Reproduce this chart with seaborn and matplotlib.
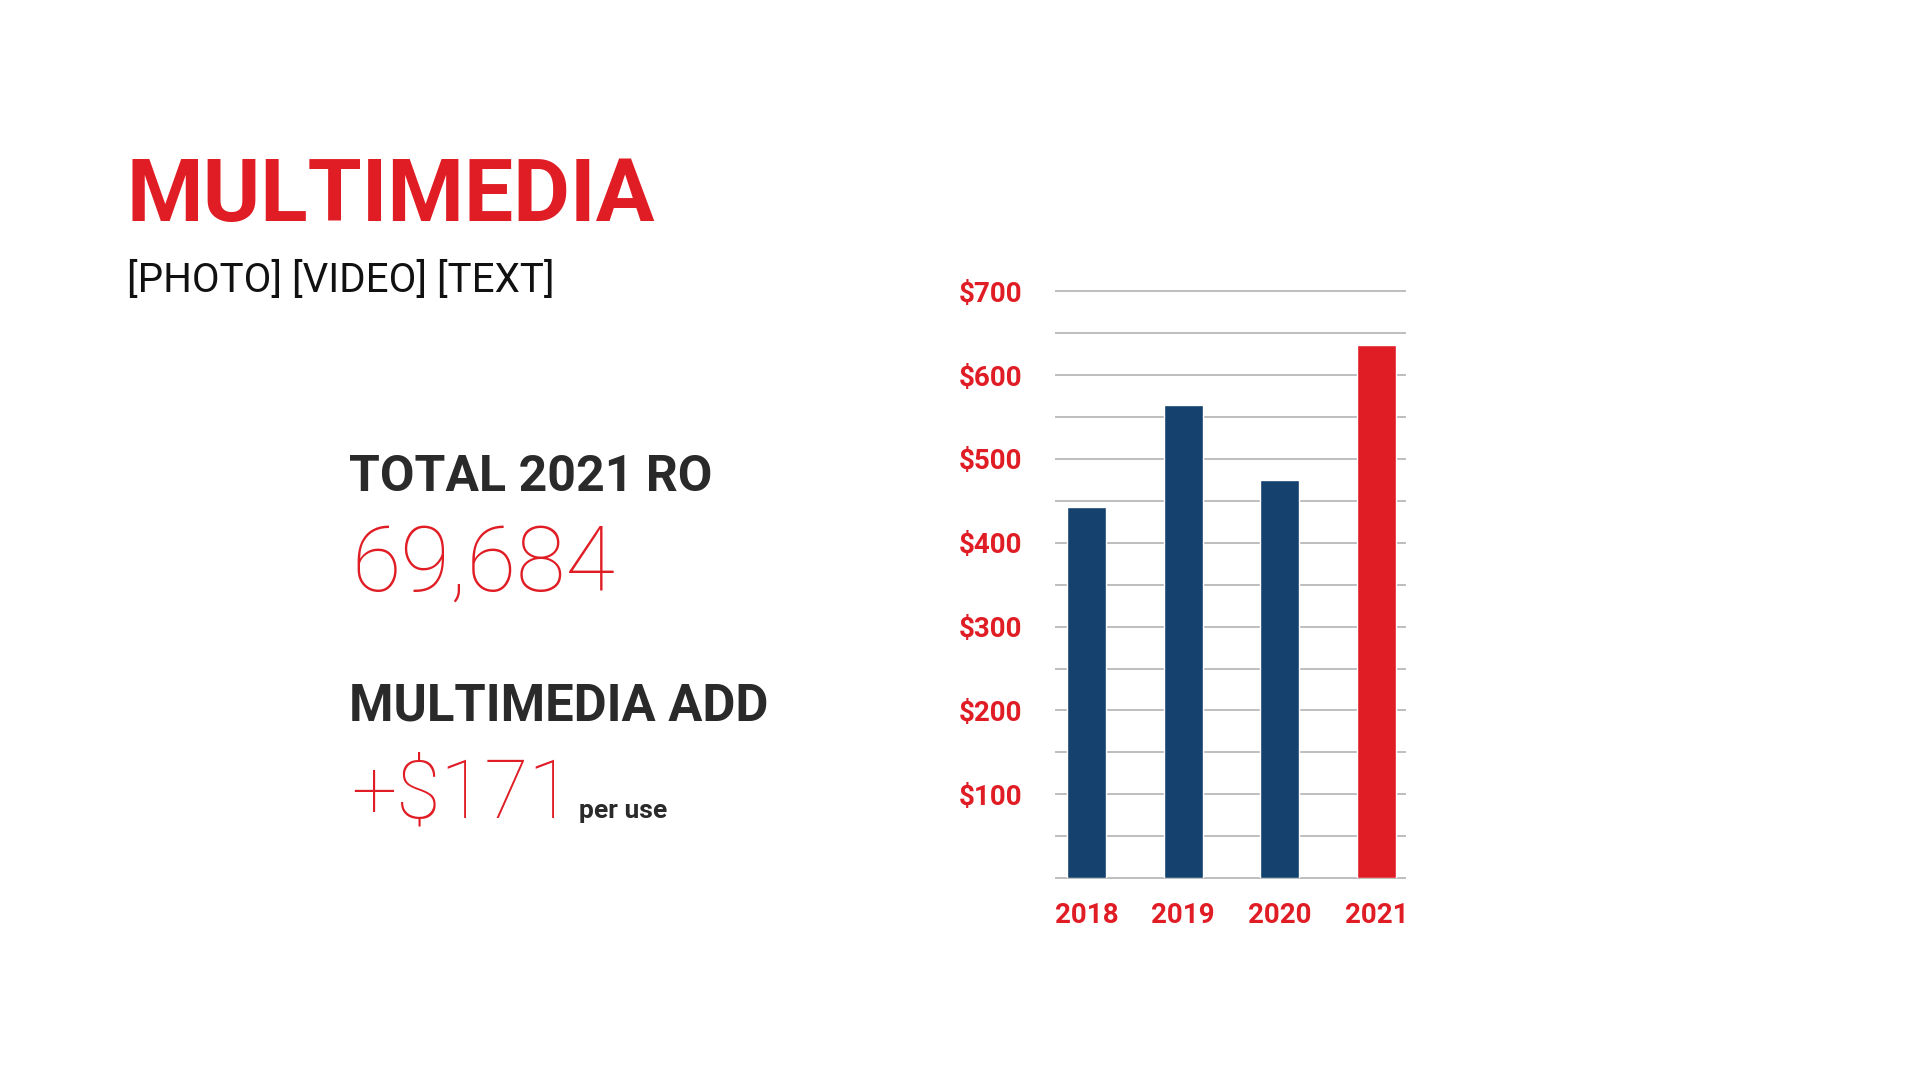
import numpy as np
import pandas as pd
import seaborn as sns
from matplotlib import pyplot as plt
from matplotlib import font_manager

years = ["2018", "2019", "2020", "2021"]
ro_values = [443, 565, 475, 636]
bar_colors = ["#15416e", "#15416e", "#15416e", "#e01d25"]
y_ticks = [100, 200, 300, 400, 500, 600, 700]
y_tick_labels = ["$100", "$200", "$300", "$400", "$500", "$600", "$700"]
grid_levels = np.arange(0, 701, 50)

title = "MULTIMEDIA"
subtitle = "[PHOTO] [VIDEO] [TEXT]"
stat1_label, stat1_value = "TOTAL 2021 RO", "69,684"
stat2_label, stat2_value, stat2_unit = "MULTIMEDIA ADD", "+$171", "per use"

RED = "#e01d25"
DARK = "#2a2a2a"


def _pick_font(candidates):
    installed = {f.name for f in font_manager.fontManager.ttflist}
    for name in candidates:
        if name in installed:
            return name
    return "DejaVu Sans"


sns.set_theme(style="white")
narrow = _pick_font(["Liberation Sans Narrow", "DejaVu Sans Condensed", "Roboto", "DejaVu Sans"])
light = _pick_font(["Roboto", "Lato", "Open Sans", "DejaVu Sans"])
plt.rcParams["font.family"] = [narrow, "DejaVu Sans"]

df = pd.DataFrame({"year": years, "value": ro_values})

fig = plt.figure(figsize=(19.2, 10.8), dpi=100)
ax = fig.add_axes([0.5497, 0.187, 0.1824, 0.5432])

sns.barplot(data=df, x="year", y="value", hue="year", palette=bar_colors,
            width=0.405, legend=False, ax=ax, saturation=1, zorder=3)

ax.set_ylim(0, 700)
ax.set_xlim(-0.32, 3.30)
ax.hlines(grid_levels, -0.32, 3.30, colors="#b3b3b3", linewidth=1.2, zorder=1, clip_on=False)
ax.set_yticks(y_ticks)
ax.set_yticklabels(y_tick_labels)
ax.grid(False)
ax.set_xlabel("")
ax.set_ylabel("")
sns.despine(ax=ax, left=True, bottom=True)
ax.tick_params(axis="y", length=0, pad=24, labelsize=20, labelcolor=RED)
ax.tick_params(axis="x", length=0, pad=17, labelsize=20, labelcolor=RED)
for lbl in ax.get_yticklabels() + ax.get_xticklabels():
    lbl.set_fontweight("bold")

# left-hand text block
fig.text(0.066, 0.795, title, color=RED, fontsize=63, fontweight="bold", va="baseline")
fig.text(0.066, 0.730, subtitle, color="#111111", fontsize=29, va="baseline")
fig.text(0.182, 0.545, stat1_label, color=DARK, fontsize=36, fontweight="bold", va="baseline")
fig.text(0.183, 0.453, stat1_value, color=RED, fontsize=65, family=light,
         fontweight="light", va="baseline")
fig.text(0.182, 0.333, stat2_label, color=DARK, fontsize=36.5, fontweight="bold", va="baseline")
value_txt = fig.text(0.183, 0.243, stat2_value, color=RED, fontsize=58, family=light,
                     fontweight="light", va="baseline")

# put the unit just after the big number
fig.canvas.draw()
bb = value_txt.get_window_extent()
unit_x = (bb.x1 + 6) / fig.bbox.width
fig.text(unit_x, 0.243, stat2_unit, color=DARK, fontsize=19, fontweight="bold", va="baseline")

fig.savefig("out.png", dpi=100, facecolor="white")
